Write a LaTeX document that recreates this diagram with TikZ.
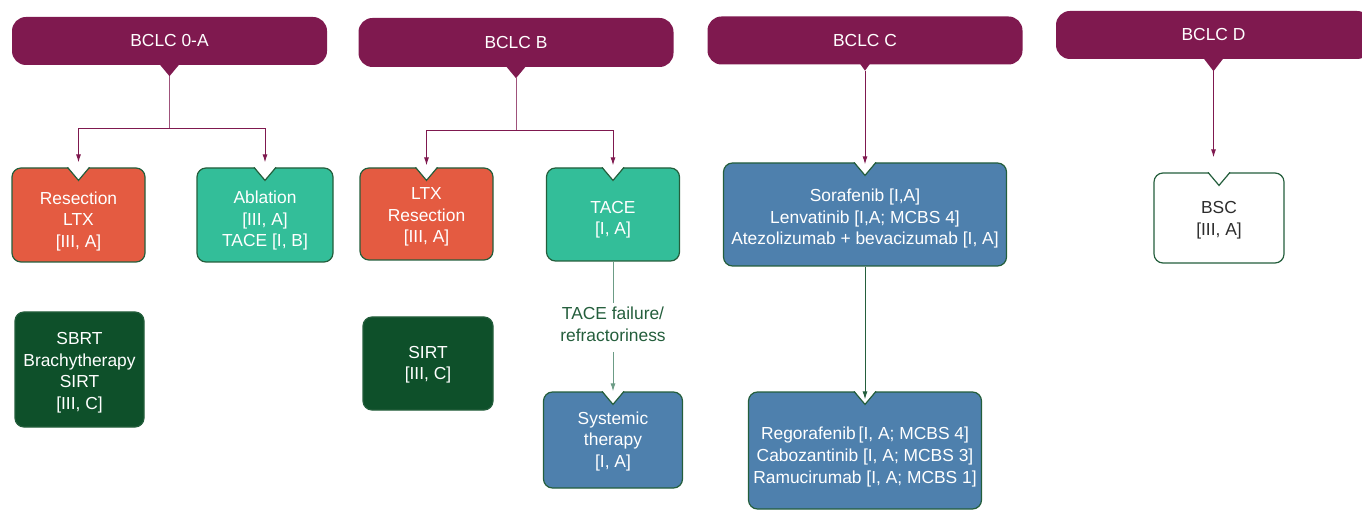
\documentclass[tikz,border=0pt]{standalone}
\usepackage{fontspec}
\setmainfont{Liberation Sans}
\usetikzlibrary{arrows.meta}
\definecolor{bclcpurple}{RGB}{127,25,79}
\definecolor{resred}{RGB}{228,91,65}
\definecolor{ablgreen}{RGB}{51,190,153}
\definecolor{darkgreen}{RGB}{14,80,42}
\definecolor{sysblue}{RGB}{78,128,173}
\definecolor{boxline}{RGB}{36,94,60}
\definecolor{failline}{RGB}{108,156,134}
\definecolor{bsctext}{RGB}{45,45,45}

\tikzset{
  every node/.style={font=\fontsize{17.4}{21.5}\selectfont},
  stage/.style={fill=bclcpurple, text=white, rounded corners=14pt,
    minimum width=315pt, minimum height=48pt, inner sep=0pt},
  treat/.style={draw=boxline, line width=1.2pt, rounded corners=9pt,
    text=white, align=center, inner sep=0pt},
  purpleline/.style={draw=bclcpurple, line width=1pt},
  purplearrow/.style={purpleline, -{Latex[length=8pt,width=5pt]}},
  greenarrow/.style={draw=boxline, line width=1pt, -{Latex[length=8pt,width=5pt]}},
}

% notch in the top edge of a treatment box
\newcommand{\boxnotch}[1]{%
  \fill[white] ([xshift=-11pt,yshift=1pt]#1.north) -- ([xshift=11pt,yshift=1pt]#1.north)
    -- ([yshift=-13pt]#1.north) -- cycle;
  \draw[boxline, line width=1.2pt] ([xshift=-11pt]#1.north) -- ([yshift=-13pt]#1.north)
    -- ([xshift=11pt]#1.north);}

% tab under a stage header
\newcommand{\stagetab}[3]{%
  \fill[bclcpurple] ([xshift=-#2,yshift=1pt]#1.south) -- ([xshift=#2,yshift=1pt]#1.south)
    -- ([yshift=-#3]#1.south) -- cycle;
  \coordinate (#1-tip) at ([yshift=-#3]#1.south);}

\begin{document}
\begin{tikzpicture}[x=1pt, y=-1pt]
\useasboundingbox (0,0) rectangle (1362,510);

% stage headers
\node[stage] (hA) at (169.5,41) {BCLC 0-A};
\node[stage, minimum height=49pt] (hB) at (516,42.5) {BCLC B};
\node[stage] (hC) at (865,40.5) {BCLC C};
\node[stage] (hD) at (1213.5,35) {BCLC D};
\stagetab{hA}{10pt}{11pt}
\stagetab{hB}{10pt}{11pt}
\stagetab{hC}{5pt}{6pt}
\stagetab{hD}{10pt}{12pt}

% BCLC 0-A
\node[treat, fill=resred, minimum width=133pt, minimum height=94pt, text height=67.7pt] (res) at (78.5,215)
  {Resection\\LTX\\{}[III, A]};
\node[treat, fill=ablgreen, minimum width=136pt, minimum height=94pt, text height=66.7pt] (abl) at (265,215)
  {Ablation\\{}[III, A]\\TACE [I, B]};
\node[treat, fill=darkgreen, minimum width=129pt, minimum height=115pt, text height=83.2pt] (sbrt) at (79.5,369.5)
  {SBRT\\Brachytherapy\\SIRT\\{}[III, C]};

% BCLC B
\node[treat, fill=resred, minimum width=133pt, minimum height=92pt, text height=60.7pt] (ltx) at (426.5,214)
  {LTX\\Resection\\{}[III, A]};
\node[treat, fill=ablgreen, minimum width=133pt, minimum height=93pt, text height=44.2pt] (tace) at (613,214.5)
  {TACE\\{}[I, A]};
\node[treat, fill=darkgreen, minimum width=130pt, minimum height=93pt, text height=36.2pt] (sirt) at (428,363.5)
  {SIRT\\{}[III, C]};
\node[text=boxline, align=center, inner sep=4pt] (fail) at (613,324.5)
  {TACE failure/\\refractoriness};
\node[treat, fill=sysblue, minimum width=139pt, minimum height=96pt, text height=57.7pt] (sys) at (613,440)
  {Systemic\\therapy\\{}[I, A]};

% BCLC C
\node[treat, fill=sysblue, minimum width=283pt, minimum height=103pt, text height=63.7pt] (sor) at (865,214.5)
  {Sorafenib [I,A]\\Lenvatinib [I,A; MCBS 4]\\Atezolizumab + bevacizumab [I, A]};
\node[treat, fill=sysblue, minimum width=233pt, minimum height=117pt, text height=70.2pt,
  font=\fontsize{17.4}{22}\selectfont] (reg) at (865,450.5)
  {Regorafenib\,[I, A; MCBS 4]\\Cabozantinib [I, A; MCBS 3]\\Ramucirumab [I, A; MCBS 1]};

% BCLC D
\node[treat, fill=white, text=bsctext, minimum width=130pt, minimum height=90pt, text height=38.2pt] (bsc) at (1219,218)
  {BSC\\{}[III, A]};

\foreach \b in {res,abl,ltx,tace,sys,sor,reg,bsc} {\boxnotch{\b}}

% connectors
\draw[purpleline, draw=bclcpurple!75] (hA-tip) -- ++(0,52) coordinate (hA-split);
\draw[purplearrow, shorten >=5pt] (hA-split) -| (res.north);
\draw[purplearrow, shorten >=5pt] (hA-split) -| (abl.north);
\draw[purpleline, draw=bclcpurple!75] (hB-tip) -- ++(0,52) coordinate (hB-split);
\draw[purplearrow, shorten >=2pt] (hB-split) -| (ltx.north);
\draw[purplearrow, shorten >=2pt] (hB-split) -| (tace.north);
\draw[purplearrow, shorten >=-2pt] (hC-tip) -- (sor.north);
\draw[purplearrow, shorten >=15pt] (hD-tip) -- (hD-tip |- bsc.north);
\draw[failline, line width=1pt] (tace.south) -- (fail.north);
\draw[draw=failline, line width=1pt, -{Latex[length=8pt,width=5pt]}, shorten <=6pt]
  (fail.south) -- (sys.north);
\draw[greenarrow, shorten >=-8pt] (sor.south) -- (reg.north);
\end{tikzpicture}
\end{document}
